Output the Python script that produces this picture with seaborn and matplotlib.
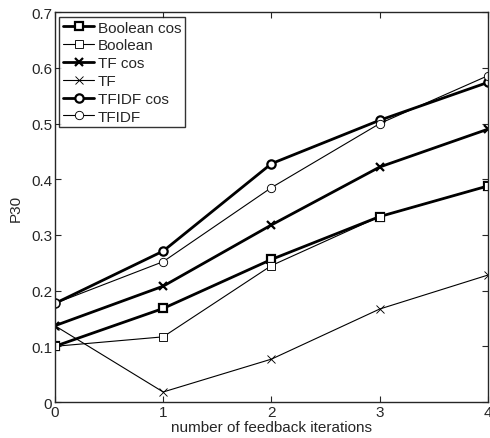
import matplotlib
matplotlib.use('Agg')
import matplotlib.pyplot as plt
import seaborn as sns

# %%
iterations = [0, 1, 2, 3, 4]
boolean_cos = [0.100, 0.168, 0.256, 0.333, 0.388]
boolean = [0.100, 0.117, 0.245, 0.333, 0.388]
tf_cos = [0.137, 0.208, 0.318, 0.422, 0.490]
tf = [0.137, 0.018, 0.077, 0.167, 0.228]
tfidf_cos = [0.177, 0.271, 0.428, 0.506, 0.574]
tfidf = [0.177, 0.252, 0.385, 0.500, 0.586]

series = [
    ('Boolean cos', boolean_cos, 's', 2.0),
    ('Boolean', boolean, 's', 0.8),
    ('TF cos', tf_cos, 'x', 2.0),
    ('TF', tf, 'x', 0.8),
    ('TFIDF cos', tfidf_cos, 'o', 2.0),
    ('TFIDF', tfidf, 'o', 0.8),
]

# %%
sns.set_style('ticks')
plt.rcParams['font.family'] = ['Liberation Sans', 'DejaVu Sans']
fs = 11

fig = plt.figure(figsize=(4.9, 4.39), dpi=100)
ax = fig.add_axes([0.112, 0.082, 0.884, 0.888])

for name, vals, mk, lw in series:
    sns.lineplot(x=iterations, y=vals, ax=ax, color='black',
                 linewidth=lw, marker=mk, markersize=6,
                 markerfacecolor='white' if mk != 'x' else 'black',
                 markeredgecolor='black', markeredgewidth=lw * 0.8,
                 label=name)

ax.set_xlim(0, 4)
ax.set_ylim(0, 0.7)
ax.set_xticks(iterations)
ax.set_yticks([0, 0.1, 0.2, 0.3, 0.4, 0.5, 0.6, 0.7])
ax.set_yticklabels(['0', '0.1', '0.2', '0.3', '0.4', '0.5', '0.6', '0.7'])
ax.tick_params(direction='in', top=True, right=True, length=4, width=0.8,
               labelsize=fs, pad=2)
for s in ax.spines.values():
    s.set_linewidth(1.0)
    s.set_visible(True)
ax.set_xlabel('number of feedback iterations', fontsize=fs, labelpad=1)
ax.set_ylabel('P30', fontsize=fs, labelpad=6)

leg = ax.legend(loc='upper left', frameon=True, fancybox=False,
                edgecolor='black', handlelength=2.0, handletextpad=0.25,
                labelspacing=0.25, borderaxespad=0.3, borderpad=0.25,
                fontsize=fs)
leg.get_frame().set_linewidth(1.0)

plt.savefig('out.png', dpi=100)
